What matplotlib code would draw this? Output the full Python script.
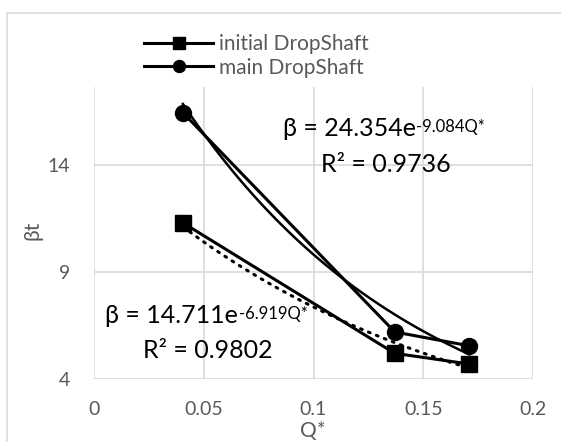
import matplotlib
matplotlib.use('Agg')
import matplotlib.pyplot as plt
import numpy as np
from matplotlib.patches import Rectangle

plt.rcParams['font.family'] = ['Lato', 'DejaVu Sans']

# data
q_initial = [0.0405, 0.137, 0.171]
beta_initial = [11.3, 5.2, 4.7]
q_main = [0.0405, 0.137, 0.171]
beta_main = [16.45, 6.2, 5.55]

# exponential trendlines shown on the chart
fit_initial = (14.711, -6.919)
fit_main = (24.354, -9.084)

gray = '#595959'
grid = '#d9d9d9'

fig = plt.figure(figsize=(5.61, 4.42), dpi=100)
ax = fig.add_axes([94 / 561, 1 - 379 / 442, (533 - 94) / 561, (379 - 87) / 442])

# chart border
fig.patches.append(Rectangle((7 / 561, -0.1), 1.2, 1 - 12.5 / 442 + 0.1,
                             transform=fig.transFigure, fill=False,
                             edgecolor='#d9d9d9', linewidth=1.2))

ax.plot(q_initial, beta_initial, '-s', color='black', lw=2.2, ms=12,
        label='initial DropShaft', zorder=4)
ax.plot(q_main, beta_main, '-o', color='black', lw=2.2, ms=11.5,
        label='main DropShaft', zorder=4)

xs = np.linspace(q_initial[0], q_initial[-1], 100)
ax.plot(xs, fit_initial[0] * np.exp(fit_initial[1] * xs), color='black',
        lw=2.2, linestyle=(0, (0.6, 2.2)), dash_capstyle='round', zorder=3)
xs = np.linspace(q_main[0], q_main[-1], 100)
ax.plot(xs, fit_main[0] * np.exp(fit_main[1] * xs), color='black',
        lw=1.8, zorder=3)

ax.set_xlim(0, 0.2)
ax.set_ylim(4, 17.65)
ax.set_xticks([0, 0.05, 0.1, 0.15, 0.2])
ax.set_xticklabels(['0', '0.05', '0.1', '0.15', '0.2'])
ax.set_yticks([4, 9, 14])
ax.grid(True, color=grid, lw=1.2)
ax.set_axisbelow(True)
for s in ax.spines.values():
    s.set_visible(False)
ax.tick_params(length=0, labelsize=14, colors=gray)
ax.tick_params(axis='x', pad=16)
ax.tick_params(axis='y', pad=17)
ax.set_xlabel('Q*', fontsize=15, color=gray)
ax.xaxis.set_label_coords(0.498, -0.145)
ax.set_ylabel('βt', fontsize=15, color=gray)
ax.yaxis.set_label_coords(-0.118, 0.51)


def equation(x, y, base, sup):
    t = ax.text(x, y, base, fontsize=18, ha='left', va='baseline')
    ax.annotate(sup, xy=(1, 1), xycoords=t, xytext=(0.5, -1.5),
                textcoords='offset points', fontsize=12, ha='left', va='top')


equation(0.0859, 15.36, 'β = 24.354e', '-9.084Q*')
ax.text(0.1036, 13.68, 'R² = 0.9736', fontsize=18, ha='left', va='baseline')
equation(0.005, 6.62, 'β = 14.711e', '-6.919Q*')
ax.text(0.0223, 4.98, 'R² = 0.9802', fontsize=18, ha='left', va='baseline')

leg = fig.legend(loc='upper left', bbox_to_anchor=(134 / 561, 1 - 24 / 442),
                 frameon=False, fontsize=15, handlelength=3.3,
                 labelspacing=0.15, handletextpad=0.3, borderpad=0,
                 markerscale=0.75)
for t in leg.get_texts():
    t.set_color(gray)

fig.savefig('out.png', dpi=100)
